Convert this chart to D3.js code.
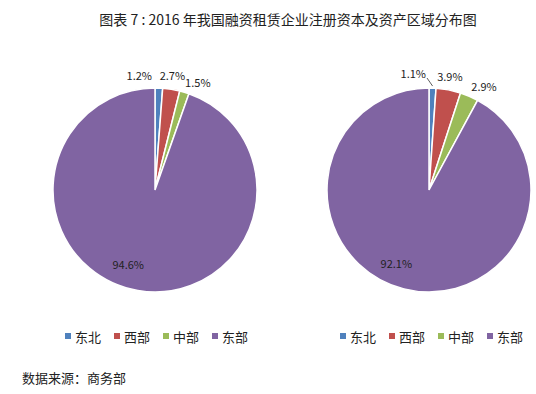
<!DOCTYPE html>
<html>
<head>
<meta charset="utf-8">
<script src="https://cdn.jsdelivr.net/npm/d3@7"></script>
<style>
  body { margin: 0; background: #fff; }
  text { font-family: "Noto Sans CJK SC", "DejaVu Sans", sans-serif; fill: #222; }
</style>
</head>
<body>
<div id="chart"></div>
<script>
// Regions and shares (%)
var regions = ["东北", "西部", "中部", "东部"];
var capitalShares = [1.2, 2.7, 1.5, 94.6];   // left pie: 注册资本
var assetShares = [1.1, 3.9, 2.9, 92.1];     // right pie: 资产
var colors = ["#4f81bd", "#c0504d", "#9bbb59", "#8064a2"];
var titleText = "图表 7 : 2016 年我国融资租赁企业注册资本及资产区域分布图";
var sourceText = "数据来源：商务部";

function init() {
    var w = 536;
    var h = 394;

    var svg = d3.select("#chart")
        .append("svg")
        .attr("width", w)
        .attr("height", h);

    // Title
    svg.append("text")
        .attr("x", 288)
        .attr("y", 25)
        .attr("text-anchor", "middle")
        .style("font-size", "14px")
        .text(titleText);

    drawPie(svg, capitalShares, 155, 190, false, 65);
    drawPie(svg, assetShares, 429, 190, true, 340);

    // Source note
    svg.append("text")
        .attr("x", 22)
        .attr("y", 383)
        .style("font-size", "13px")
        .text(sourceText);
}

function drawPie(svg, values, cx, cy, leader, legendX) {
    var r = 102;
    var g = svg.append("g").attr("transform", "translate(" + cx + "," + cy + ")");

    var pie = d3.pie().sort(null).value(function(d) { return d; });
    var arcs = pie(values);
    var arc = d3.arc().innerRadius(0).outerRadius(r);
    var outerArc = d3.arc().innerRadius(r + 13).outerRadius(r + 13);
    var innerArc = d3.arc().innerRadius(76).outerRadius(76);

    g.selectAll("path")
        .data(arcs)
        .enter()
        .append("path")
        .attr("d", arc)
        .attr("fill", function(d, i) { return colors[i]; })
        .attr("stroke", "#fff")
        .attr("stroke-width", 1.5);

    // Labels: first slice to the left of the top, small ones outside, big one inside
    g.selectAll("text.lbl")
        .data(arcs)
        .enter()
        .append("text")
        .attr("class", "lbl")
        .style("font-size", "11px")
        .attr("text-anchor", function(d, i) {
            if (i === 0) return "end";
            if (i === 2) return "start";
            return "middle";
        })
        .attr("x", function(d, i) {
            if (i === 0) return -3;
            if (i === 3) return innerArc.centroid(d)[0] - 14;
            var c = outerArc.centroid(d);
            return i === 2 ? c[0] - 3 : c[0] - 1;
        })
        .attr("y", function(d, i) {
            if (i === 0) return leader ? -112 : -110;
            var c = i === 3 ? innerArc.centroid(d) : outerArc.centroid(d);
            return i === 2 ? c[1] + 7 : c[1] + 4;
        })
        .text(function(d) { return d.data.toFixed(1) + "%"; });

    if (leader) {
        var a = (arcs[0].startAngle + arcs[0].endAngle) / 2;
        g.append("line")
            .attr("x1", -2).attr("y1", -112)
            .attr("x2", Math.sin(a) * (r + 2)).attr("y2", -Math.cos(a) * (r + 2))
            .attr("stroke", "#333")
            .attr("stroke-width", 0.8);
    }

    // Legend
    var lg = svg.append("g").attr("transform", "translate(" + legendX + ",337)");
    var item = lg.selectAll("g")
        .data(regions)
        .enter()
        .append("g")
        .attr("transform", function(d, i) { return "translate(" + (i * 49) + ",0)"; });
    item.append("rect")
        .attr("x", 0).attr("y", -4)
        .attr("width", 6).attr("height", 6)
        .attr("fill", function(d, i) { return colors[i]; });
    item.append("text")
        .attr("x", 10)
        .attr("y", 5)
        .style("font-size", "13px")
        .text(function(d) { return d; });
}

window.onload = init;
</script>
</body>
</html>
